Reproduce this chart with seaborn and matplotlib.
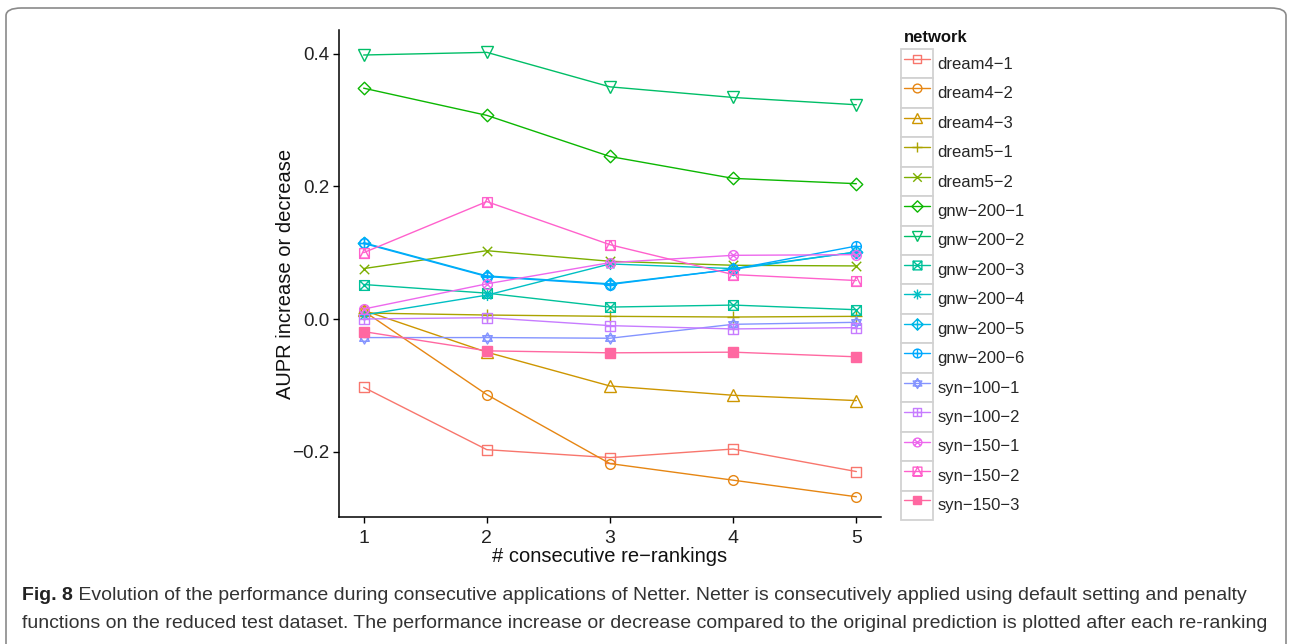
import numpy as np
import pandas as pd
import matplotlib
matplotlib.use("Agg")
import matplotlib.pyplot as plt
import seaborn as sns
from matplotlib.path import Path
from matplotlib.lines import Line2D
from matplotlib.patches import Rectangle, FancyBboxPatch
from matplotlib.legend_handler import HandlerLine2D
from matplotlib import colors as mcolors

# ---- data -------------------------------------------------------------
steps = [1, 2, 3, 4, 5]
networks = ["dream4−1", "dream4−2", "dream4−3", "dream5−1", "dream5−2",
            "gnw−200−1", "gnw−200−2", "gnw−200−3", "gnw−200−4", "gnw−200−5",
            "gnw−200−6", "syn−100−1", "syn−100−2", "syn−150−1", "syn−150−2",
            "syn−150−3"]

dream4_1 = [-0.103, -0.197, -0.209, -0.196, -0.230]
dream4_2 = [0.012, -0.114, -0.218, -0.243, -0.268]
dream4_3 = [0.013, -0.050, -0.101, -0.115, -0.123]
dream5_1 = [0.009, 0.006, 0.004, 0.003, 0.004]
dream5_2 = [0.076, 0.103, 0.087, 0.081, 0.080]
gnw_200_1 = [0.348, 0.307, 0.245, 0.212, 0.204]
gnw_200_2 = [0.398, 0.402, 0.350, 0.334, 0.323]
gnw_200_3 = [0.052, 0.039, 0.018, 0.021, 0.014]
gnw_200_4 = [0.006, 0.036, 0.083, 0.076, 0.101]
gnw_200_5 = [0.115, 0.065, 0.053, 0.075, 0.101]
gnw_200_6 = [0.114, 0.064, 0.052, 0.075, 0.110]
syn_100_1 = [-0.028, -0.028, -0.029, -0.008, -0.005]
syn_100_2 = [0.000, 0.002, -0.010, -0.015, -0.013]
syn_150_1 = [0.015, 0.053, 0.085, 0.096, 0.097]
syn_150_2 = [0.100, 0.177, 0.112, 0.067, 0.058]
syn_150_3 = [-0.019, -0.048, -0.051, -0.050, -0.057]

series = [dream4_1, dream4_2, dream4_3, dream5_1, dream5_2,
          gnw_200_1, gnw_200_2, gnw_200_3, gnw_200_4, gnw_200_5,
          gnw_200_6, syn_100_1, syn_100_2, syn_150_1, syn_150_2,
          syn_150_3]

x_ticks = [1, 2, 3, 4, 5]
y_ticks = [-0.2, 0.0, 0.2, 0.4]

x_label = "# consecutive re−rankings"
y_label = "AUPR increase or decrease"
legend_title = "network"
caption_bold = "Fig. 8"
caption_lines = [
    " Evolution of the performance during consecutive applications of Netter. "
    "Netter is consecutively applied using default setting and penalty",
    "functions on the reduced test dataset. The performance increase or "
    "decrease compared to the original prediction is plotted after each re-ranking",
]

df = pd.DataFrame({
    "network": np.repeat(networks, len(steps)),
    "step": np.tile(steps, len(networks)),
    "aupr": np.concatenate(series),
})


# ---- hue palette (evenly spaced HCL hues, c=100, l=65) ----------------
def hcl_hex(h, c=100.0, l=65.0):
    hr = np.deg2rad(h)
    u, v = c * np.cos(hr), c * np.sin(hr)
    Xn, Yn, Zn = 95.047, 100.0, 108.883
    Y = Yn * ((l + 16) / 116) ** 3 if l > 8 else Yn * l / 903.3
    d = Xn + 15 * Yn + 3 * Zn
    un, vn = 4 * Xn / d, 9 * Yn / d
    up, vp = u / (13 * l) + un, v / (13 * l) + vn
    X = 9 * Y * up / (4 * vp)
    Z = -X / 3 - 5 * Y + 3 * Y / vp
    M = np.array([[3.240479, -1.537150, -0.498535],
                  [-0.969256, 1.875992, 0.041556],
                  [0.055648, -0.204043, 1.057311]])
    lin = M @ np.array([X, Y, Z]) / 100
    rgb = np.where(lin <= 0.0031308, 12.92 * lin,
                   1.055 * np.clip(lin, 0, None) ** (1 / 2.4) - 0.055)
    return mcolors.to_hex(np.clip(rgb, 0, 1))


palette = {n: hcl_hex(15 + 360 / len(networks) * i) for i, n in enumerate(networks)}


# ---- marker shapes ----------------------------------------------------
def poly(pts):
    pts = list(pts) + [pts[0]]
    return Path(pts, [Path.MOVETO] + [Path.LINETO] * (len(pts) - 2) + [Path.CLOSEPOLY])


def seg(a, b):
    return Path([a, b], [Path.MOVETO, Path.LINETO])


def combo(*parts):
    return Path.make_compound_path(*parts)


r = 0.7071
square = poly([(-1, -1), (1, -1), (1, 1), (-1, 1)])
diamond = poly([(0, -1), (1, 0), (0, 1), (-1, 0)])
circle = Path.unit_circle()
plus = combo(seg((-1, 0), (1, 0)), seg((0, -1), (0, 1)))
cross = combo(seg((-1, -1), (1, 1)), seg((-1, 1), (1, -1)))
cross_in = combo(seg((-r, -r), (r, r)), seg((-r, r), (r, -r)))
tri_up = poly([(0, 1), (-0.866, -0.5), (0.866, -0.5)])
tri_dn = poly([(0, -1), (-0.866, 0.5), (0.866, 0.5)])

shapes = {
    "dream4−1": square,
    "dream4−2": "o",
    "dream4−3": "^",
    "dream5−1": plus,
    "dream5−2": cross,
    "gnw−200−1": diamond,
    "gnw−200−2": "v",
    "gnw−200−3": combo(square, cross),
    "gnw−200−4": combo(plus, cross_in),
    "gnw−200−5": combo(diamond, plus),
    "gnw−200−6": combo(circle, plus),
    "syn−100−1": combo(tri_up, tri_dn),
    "syn−100−2": combo(square, plus),
    "syn−150−1": combo(circle, cross_in),
    "syn−150−2": combo(square, poly([(-1, -1), (0, 1), (1, -1)])),
    "syn−150−3": "s",
}
filled = {"syn−150−3"}
marker_size = {n: 7.0 for n in networks}
marker_size.update({
    "dream4−1": 6.6, "dream4−3": 8.0, "gnw−200−2": 8.0, "dream5−1": 8.5,
    "dream5−2": 6.8, "gnw−200−1": 9.0, "gnw−200−5": 9.0, "gnw−200−4": 8.0,
    "syn−100−1": 8.0, "syn−150−3": 6.8,
})
line_width = 1.0

# ---- figure -----------------------------------------------------------
sns.set_theme(style="white")
plt.rcParams["font.family"] = ["Liberation Sans", "DejaVu Sans"]
plt.rcParams["axes.unicode_minus"] = True

fig = plt.figure(figsize=(12.92, 6.44), dpi=100)
ax = fig.add_axes([339 / 1292, 1 - 517 / 644, (881 - 339) / 1292, (517 - 30) / 644])

sns.lineplot(data=df, x="step", y="aupr", hue="network", style="network",
             hue_order=networks, style_order=networks, palette=palette,
             markers=shapes, dashes=False, errorbar=None, linewidth=line_width,
             legend=False, ax=ax)

color_to_net = {mcolors.to_hex(c): n for n, c in palette.items()}
for line in ax.lines:
    n = color_to_net.get(mcolors.to_hex(line.get_color()))
    if n is None:
        continue
    c = palette[n]
    line.set_markersize(marker_size[n])
    line.set_markeredgecolor(c)
    line.set_markeredgewidth(1.0)
    line.set_markerfacecolor(c if n in filled else "none")

ax.set_xlim(1 - 0.2, 5 + 0.2)
ax.set_ylim((319 - 517) / 663.3, (319 - 30) / 663.3)
ax.set_xticks(x_ticks)
ax.set_xticklabels([str(t) for t in x_ticks])
ax.set_yticks(y_ticks)
ax.set_yticklabels([f"{t:.1f}".replace("-", "−") for t in y_ticks])
ax.set_xlabel(x_label, fontsize=14.5, color="#111111", labelpad=0)
ax.set_ylabel(y_label, fontsize=14.5, color="#111111", labelpad=-2.5)
for s in ["top", "right"]:
    ax.spines[s].set_visible(False)
for s in ["left", "bottom"]:
    ax.spines[s].set_color("black")
    ax.spines[s].set_linewidth(1.1)
ax.tick_params(axis="both", which="major", direction="out", length=4.5,
               width=1.0, color="black", labelsize=14, labelcolor="#222222",
               pad=2.5, left=True, bottom=True)
ax.tick_params(axis="y", labelsize=13.5)
ax.tick_params(axis="x", pad=5)
ax.grid(False)


# ---- legend with boxed keys --------------------------------------------
class BoxedKey(HandlerLine2D):
    def create_artists(self, legend, orig_handle, xdescent, ydescent,
                       width, height, fontsize, trans):
        arts = super().create_artists(legend, orig_handle, xdescent, ydescent,
                                      width, height, fontsize, trans)
        pad = 2.0
        box = Rectangle((-xdescent - pad, -ydescent), width + 2 * pad, height,
                        facecolor="white", edgecolor="#d2d2d2", linewidth=1.3,
                        transform=trans)
        return [box] + arts


handles = []
for n in networks:
    c = palette[n]
    handles.append(Line2D([], [], color=c, linewidth=line_width, marker=shapes[n],
                          markersize=marker_size[n] * 0.9, markeredgecolor=c,
                          markeredgewidth=1.0,
                          markerfacecolor=c if n in filled else "none"))

leg = fig.legend(handles, networks, loc="upper left",
                 bbox_to_anchor=(904 / 1292, 1 - 49 / 644), frameon=False,
                 fontsize=12, handlelength=1.55,
                 handleheight=2.34, labelspacing=0.0, handletextpad=0.45,
                 borderpad=0.0, borderaxespad=0.0,
                 handler_map={Line2D: BoxedKey()})
fig.text(904 / 1292, 1 - 37 / 644, legend_title, fontsize=12, fontweight="bold",
         va="center", ha="left", color="#111111")

# ---- caption ------------------------------------------------------------
cap_font = ["Liberation Sans Narrow", "Liberation Sans", "DejaVu Sans"]
t_bold = fig.text(22 / 1292, 1 - 596 / 644, caption_bold, fontsize=14,
                  fontweight="bold", family=cap_font, va="center", ha="left",
                  color="#222222")
fig.canvas.draw()
bb = t_bold.get_window_extent()
fig.text(bb.x1 / 1292, 1 - 596 / 644, caption_lines[0], fontsize=14,
         family=cap_font, va="center", ha="left", color="#333333")
fig.text(22 / 1292, 1 - 624 / 644, caption_lines[1], fontsize=14,
         family=cap_font, va="center", ha="left", color="#333333")

# ---- rounded outer frame --------------------------------------------------
frame = FancyBboxPatch((6 / 1292, -0.1), 1280 / 1292, 1.1 - 8 / 644,
                       boxstyle="round,pad=0,rounding_size=0.012",
                       transform=fig.transFigure, facecolor="none",
                       edgecolor="#8a8a8a", linewidth=1.2, clip_on=False)
fig.add_artist(frame)

fig.savefig("out.png", dpi=100)
